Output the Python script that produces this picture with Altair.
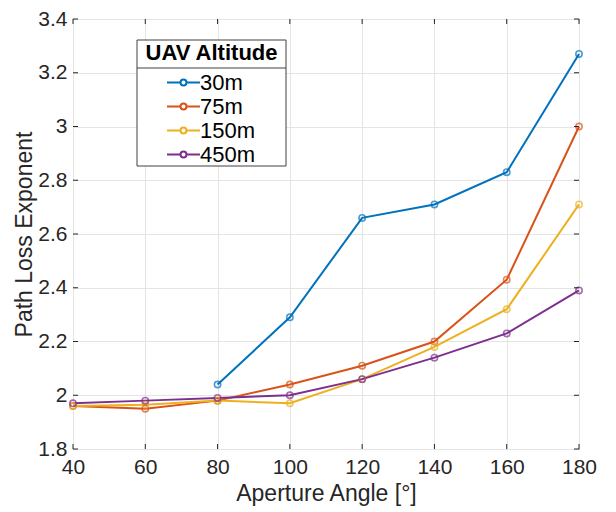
import altair as alt
import pandas as pd

angles = [40, 60, 80, 100, 120, 140, 160, 180]
alt30 = [None, None, 2.04, 2.29, 2.66, 2.71, 2.83, 3.27]
alt75 = [1.96, 1.95, 1.98, 2.04, 2.11, 2.20, 2.43, 3.00]
alt150 = [1.96, 1.965, 1.98, 1.97, 2.06, 2.18, 2.32, 2.71]
alt450 = [1.97, 1.98, 1.99, 2.00, 2.06, 2.14, 2.23, 2.39]
series = ["30m", "75m", "150m", "450m"]
colors = ["#0072BD", "#D95319", "#EDB120", "#7E2F8E"]
x_ticks = [40, 60, 80, 100, 120, 140, 160, 180]
y_ticks = [1.8, 2.0, 2.2, 2.4, 2.6, 2.8, 3.0, 3.2, 3.4]
legend_title = "UAV Altitude"

rows = []
for name, vals in zip(series, [alt30, alt75, alt150, alt450]):
    for a, v in zip(angles, vals):
        if v is not None:
            rows.append({"angle": a, "ple": v, "alt": name})
df = pd.DataFrame(rows)
xt = pd.DataFrame({"t": x_ticks})
yt = pd.DataFrame({"t": y_ticks})

FONT = "Liberation Sans"
INK = "#262626"
W, H = 506, 430
TL = 5  # inward tick length

# legend symbol: line with an open circle in the middle
legend_sym = ("M-1.5,0L-0.27,0M0.27,0L1.5,0"
              "M-0.27,0A0.27,0.27 0 1,0 0.27,0A0.27,0.27 0 1,0 -0.27,0")

xs = alt.Scale(domain=[40, 180], nice=False)
ys = alt.Scale(domain=[1.8, 3.4], nice=False, zero=False)

x = alt.X("angle:Q", title="Aperture Angle [°]", scale=xs,
          axis=alt.Axis(values=x_ticks, labelFlush=False))
y = alt.Y("ple:Q", title="Path Loss Exponent", scale=ys,
          axis=alt.Axis(values=y_ticks, format="~g", labelFlush=False))
color = alt.Color("alt:N", sort=series,
                  scale=alt.Scale(domain=series, range=colors),
                  legend=alt.Legend(title=None, orient="none", legendX=98.5, legendY=51.5,
                                    symbolType=legend_sym, symbolSize=484, symbolStrokeWidth=2,
                                    symbolFillColor="transparent",
                                    labelFont=FONT, labelFontSize=22, labelColor="black",
                                    padding=0, rowPadding=1, labelOffset=4.5))

one = pd.DataFrame({"k": [0]})
box = alt.Chart(one).mark_rect(
    fill="white", stroke="#404040", strokeWidth=1).encode(
    x=alt.value(64), x2=alt.value(213), y=alt.value(21), y2=alt.value(147))
sep = alt.Chart(one).mark_rule(color="#404040", strokeWidth=1).encode(
    x=alt.value(64), x2=alt.value(213), y=alt.value(49))
ttl = alt.Chart(one).mark_text(
    text=legend_title, font=FONT, fontSize=22, fontWeight="bold", color="black",
    align="center", baseline="middle").encode(x=alt.value(138.5), y=alt.value(34))

lines = alt.Chart(df).mark_line(strokeWidth=2).encode(x=x, y=y, color=color)
points = alt.Chart(df).mark_point(shape="circle", size=40, strokeWidth=1.6, filled=False).encode(
    x=alt.X("angle:Q", scale=xs), y=alt.Y("ple:Q", scale=ys),
    color=alt.Color("alt:N", sort=series, legend=None,
                    scale=alt.Scale(domain=series, range=colors)))

tick_style = dict(color=INK, strokeWidth=1)
xb = alt.Chart(xt).mark_rule(**tick_style).encode(
    x=alt.X("t:Q", scale=xs), y=alt.value(H), y2=alt.value(H - TL))
xtop = alt.Chart(xt).mark_rule(**tick_style).encode(
    x=alt.X("t:Q", scale=xs), y=alt.value(0), y2=alt.value(TL))
yl = alt.Chart(yt).mark_rule(**tick_style).encode(
    y=alt.Y("t:Q", scale=ys), x=alt.value(0), x2=alt.value(TL))
yr = alt.Chart(yt).mark_rule(**tick_style).encode(
    y=alt.Y("t:Q", scale=ys), x=alt.value(W), x2=alt.value(W - TL))

chart = alt.layer(lines, points, xb, xtop, yl, yr, box, sep, ttl).properties(
    width=W, height=H,
    autosize=alt.AutoSizeParams(type="none"),
    padding={"left": 73, "top": 19, "right": 37, "bottom": 63},
).configure_view(stroke=INK, strokeWidth=1).configure_axis(
    grid=True, gridColor="#e4e4e4", gridWidth=1, domain=False,
    tickSize=0, labelFont=FONT, labelFontSize=21, labelColor=INK,
    titleFont=FONT, titleFontSize=23, titleFontWeight="normal", titleColor=INK,
).configure_axisX(labelPadding=7, titlePadding=5).configure_axisY(labelPadding=6, titlePadding=1)

chart.save("out.html", embed_options={"renderer": "svg", "actions": False})
